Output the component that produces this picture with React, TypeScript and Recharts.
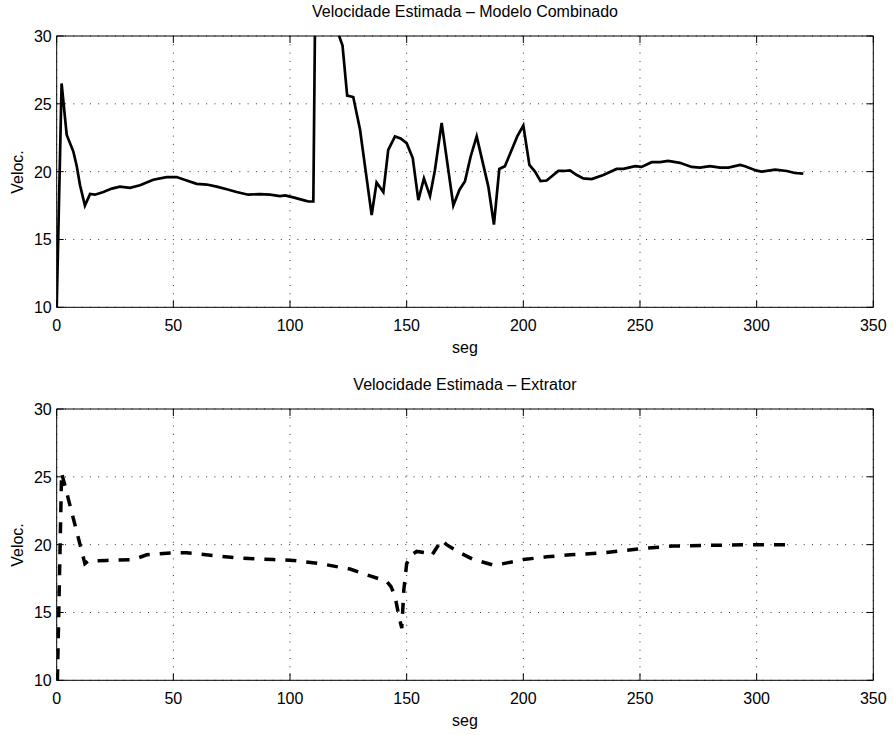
import { LineChart, Line, XAxis, YAxis, CartesianGrid, ReferenceArea } from 'recharts';

// time (s) and estimated speed
const combT = [
    0, 2.1, 4.3, 7.1, 8.6, 10, 12.1, 14.3, 16.4, 20, 23.6, 27.1, 31.4, 35.7, 41.4, 47.1, 51.4, 55.7, 60, 64.3,
    68.6, 72.9, 77.1, 82.1, 87.1, 91.4, 95.7, 97.9, 101.4, 105.7, 107.9, 110, 111.2, 116, 119, 122.5, 124.5, 127.1, 130, 135,
    137.1, 140, 142.1, 145, 147.4, 150, 152.6, 155, 157.4, 160, 162.1, 165, 170, 172.6, 175, 177.4, 180, 185, 187.4, 189.7,
    192.1, 197.4, 200, 202.6, 205, 207.4, 210, 215, 217.4, 220, 222.9, 225.7, 229.3, 234.3, 240, 242.9, 247.9, 250.7, 255, 258.6,
    262.1, 267.1, 272.1, 275.7, 280, 284.3, 287.9, 292.9, 295, 300, 302.1, 307.9, 312.9, 316.4, 320,
];
const combV = [
    10, 26.5, 22.7, 21.5, 20.4, 19.0, 17.5, 18.35, 18.3, 18.5, 18.75, 18.9, 18.8, 19.0, 19.4, 19.6, 19.6, 19.35, 19.1, 19.05,
    18.9, 18.7, 18.5, 18.3, 18.35, 18.3, 18.2, 18.25, 18.1, 17.9, 17.8, 17.8, 40, 36, 31, 29.3, 25.6, 25.5, 23.1, 16.8,
    19.2, 18.5, 21.6, 22.6, 22.45, 22.1, 21.0, 17.9, 19.5, 18.2, 20.1, 23.6, 17.5, 18.65, 19.3, 21.1, 22.6, 18.9, 16.1, 20.2,
    20.4, 22.6, 23.4, 20.5, 20.0, 19.3, 19.35, 20.05, 20.05, 20.1, 19.75, 19.5, 19.45, 19.75, 20.2, 20.2, 20.4, 20.35, 20.7, 20.7,
    20.8, 20.65, 20.35, 20.3, 20.4, 20.3, 20.3, 20.5, 20.4, 20.07, 20.0, 20.15, 20.05, 19.9, 19.85,
];

const extT = [
    0.3, 2.1, 12.1, 13.6, 21.4, 32.9, 38.6, 50, 55.7, 67.1, 78.6, 92.9, 101.4, 112.9, 125.7, 134.3, 141.4, 143.3, 145, 146.7,
    147.9, 148.8, 150, 152.1, 154.3, 158.6, 160.7, 165, 167.1, 172.9, 178.6, 187.1, 191.4, 200, 210, 220, 234.3, 250, 264.3, 281.4,
    300, 314,
];
const extV = [
    10, 25.3, 18.6, 18.8, 18.84, 18.9, 19.25, 19.4, 19.4, 19.2, 19.0, 18.9, 18.84, 18.6, 18.2, 17.7, 17.3, 16.9, 16.2, 14.7,
    13.85, 16.7, 18.6, 19.25, 19.5, 19.4, 19.2, 20.35, 20.0, 19.4, 18.9, 18.5, 18.6, 18.9, 19.1, 19.25, 19.4, 19.7, 19.9, 19.95,
    20.0, 20.0,
];

const xTicks = [0, 50, 100, 150, 200, 250, 300, 350];
const yTicks = [10, 15, 20, 25, 30];

const W = 893;
const H = 370;
const PL = 56.7;
const PR = 873.3;
const PT = 36;
const PB = 307.3;
const TICK = 7;
const FONT = '"Liberation Sans", Arial, Helvetica, sans-serif';
const FS = 16;

const zip = (t: number[], v: number[]) => t.map((x, i) => ({ t: x, v: v[i] }));

// eslint-disable-next-line @typescript-eslint/no-explicit-any
const XTick = (props: any) => {
    const { x, payload } = props;
    return (
        <g>
            <line x1={x} x2={x} y1={PB} y2={PB - TICK} stroke="#000" />
            <line x1={x} x2={x} y1={PT} y2={PT + TICK} stroke="#000" />
            <text x={x} y={PB + 24} textAnchor="middle" fontSize={FS} fontFamily={FONT} fill="#000">{payload.value}</text>
        </g>
    );
};

// eslint-disable-next-line @typescript-eslint/no-explicit-any
const YTick = (props: any) => {
    const { y, payload } = props;
    return (
        <g>
            <line x1={PL} x2={PL + TICK} y1={y} y2={y} stroke="#000" />
            <line x1={PR - TICK} x2={PR} y1={y} y2={y} stroke="#000" />
            <text x={PL - 5} y={y + 6} textAnchor="end" fontSize={FS} fontFamily={FONT} fill="#000">{payload.value}</text>
        </g>
    );
};

interface PanelProps {
    top: number;
    title: string;
    t: number[];
    v: number[];
    dashed?: boolean;
}

function Panel({ top, title, t, v, dashed }: PanelProps) {
    const txt = { position: 'absolute' as const, fontFamily: FONT, fontSize: FS, lineHeight: `${FS}px`, color: '#000', whiteSpace: 'nowrap' as const };
    return (
        <div style={{ position: 'absolute', left: 0, top, width: W, height: H }}>
            <LineChart width={W} height={H} data={zip(t, v)} margin={{ top: PT, right: W - PR, left: 0, bottom: H - PB - 30 }}>
                <CartesianGrid stroke="#333" strokeDasharray="1 7.3" />
                <XAxis dataKey="t" type="number" domain={[0, 350]} ticks={xTicks} interval={0} height={30}
                    axisLine={false} tickLine={false} tick={XTick} allowDataOverflow />
                <YAxis type="number" domain={[10, 30]} ticks={yTicks} interval={0} width={PL}
                    axisLine={false} tickLine={false} tick={YTick} allowDataOverflow />
                <ReferenceArea x1={0} x2={350} y1={10} y2={30} fill="none" stroke="#000" strokeWidth={1} />
                <Line type="linear" dataKey="v" stroke="#000" strokeWidth={dashed ? 3.5 : 2.7}
                    strokeDasharray={dashed ? '11 10' : undefined} dot={false} isAnimationActive={false} />
            </LineChart>
            <div style={{ ...txt, left: PL, width: PR - PL, top: 4, textAlign: 'center' }}>{title}</div>
            <div style={{ ...txt, left: PL, width: PR - PL, top: 340, textAlign: 'center' }}>seg</div>
            <div style={{ ...txt, left: 18, top: (PT + PB) / 2, transform: 'translate(-50%, -50%) rotate(-90deg)' }}>Veloc.</div>
        </div>
    );
}

export default function App() {
    return (
        <div style={{ position: 'absolute', left: 0, top: 0, width: W, height: 735, background: '#fff' }}>
            <Panel top={0} title="Velocidade Estimada – Modelo Combinado" t={combT} v={combV} />
            <Panel top={373.4} title="Velocidade Estimada – Extrator" t={extT} v={extV} dashed />
        </div>
    );
}
